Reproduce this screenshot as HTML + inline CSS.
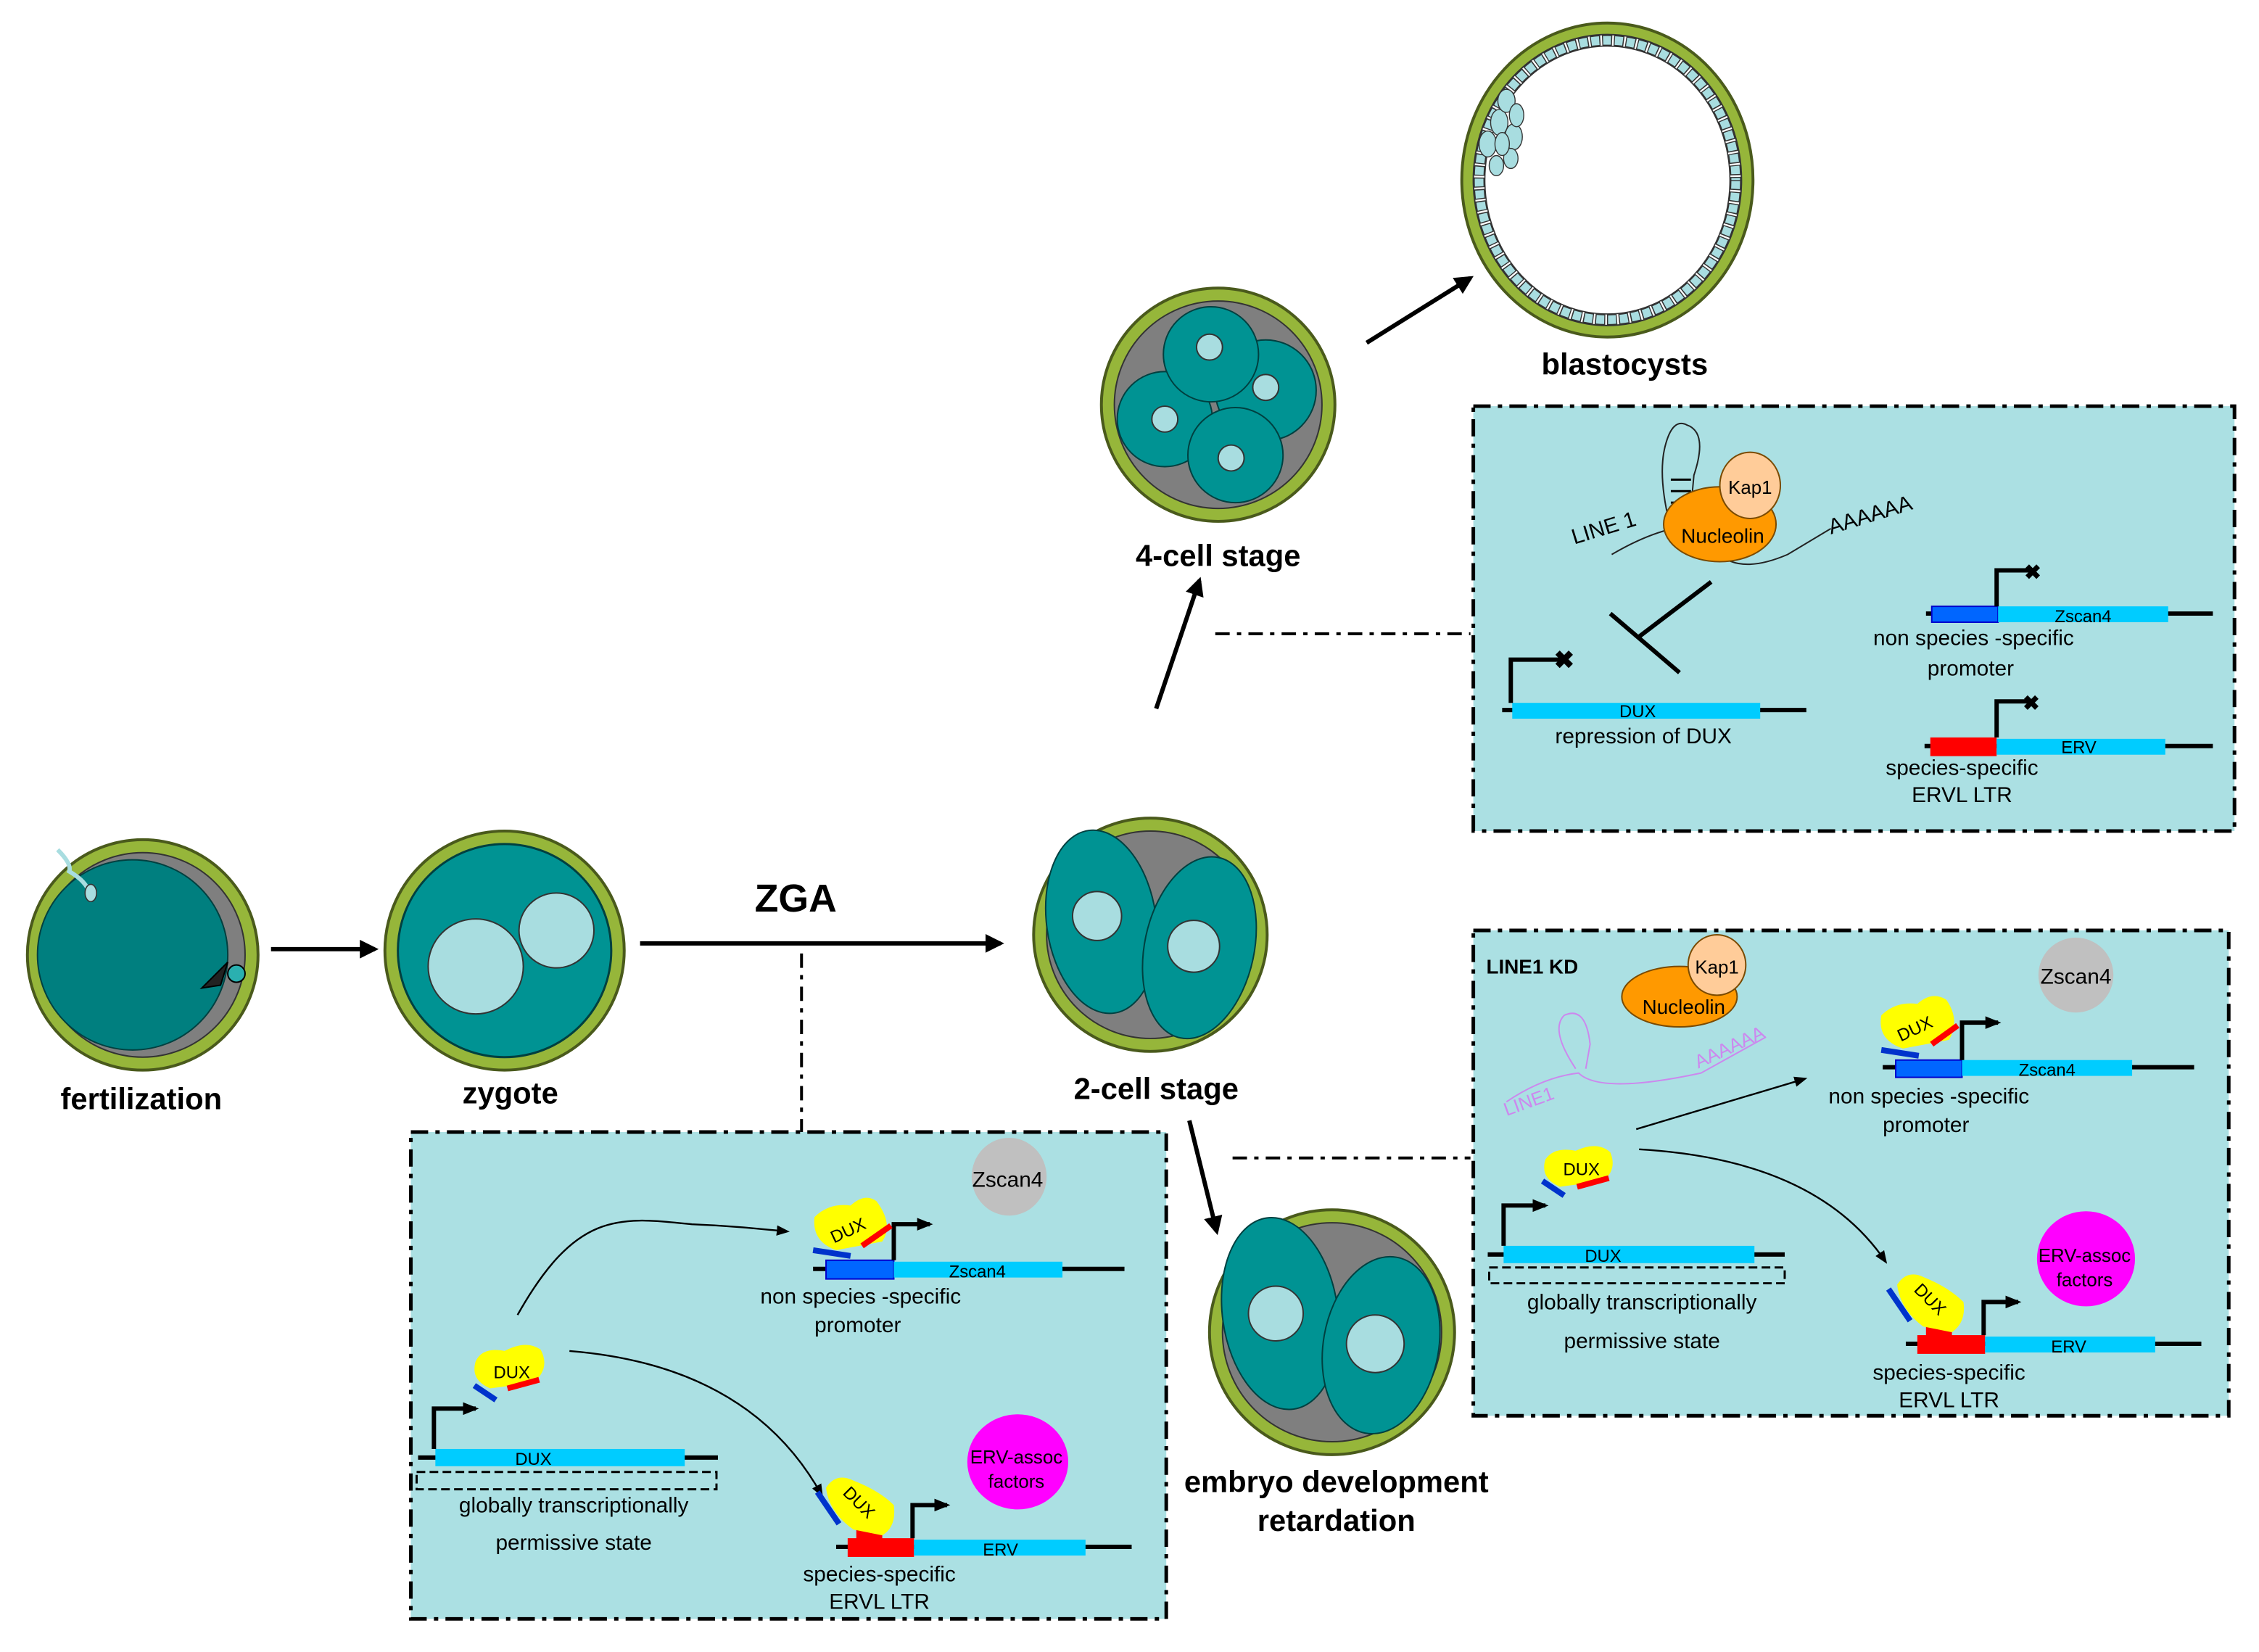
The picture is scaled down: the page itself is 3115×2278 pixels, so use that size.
<!DOCTYPE html>
<html><head><meta charset="utf-8"><style>
html,body{margin:0;padding:0;background:#fff}
svg{display:block}
text{font-family:"Liberation Sans",sans-serif}
</style></head><body>
<svg width="3115" height="2278" viewBox="0 0 1567 1147" preserveAspectRatio="none" xmlns="http://www.w3.org/2000/svg">
<defs>
<marker id="ah" viewBox="0 0 10 10" refX="8" refY="5" markerWidth="13" markerHeight="13" markerUnits="userSpaceOnUse" orient="auto"><path d="M0,0L10,5L0,10z" fill="#000"/></marker>
<marker id="ahs" viewBox="0 0 10 10" refX="8" refY="5" markerWidth="11" markerHeight="11" markerUnits="userSpaceOnUse" orient="auto"><path d="M0,1L10,5L0,9z" fill="#000"/></marker>
<marker id="aht" viewBox="0 0 10 10" refX="8" refY="5" markerWidth="9" markerHeight="9" markerUnits="userSpaceOnUse" orient="auto"><path d="M0,1L10,5L0,9z" fill="#000"/></marker>
</defs>
<rect width="1567" height="1147" fill="#fff"/>

<rect x="1022" y="282" width="528" height="295" fill="#abe0e3" stroke="#000" stroke-width="2.5" stroke-dasharray="12,5,3,5"/>
<rect x="285" y="786" width="524" height="338" fill="#abe0e3" stroke="#000" stroke-width="2.5" stroke-dasharray="12,5,3,5"/>
<rect x="1022" y="646" width="524" height="337" fill="#abe0e3" stroke="#000" stroke-width="2.5" stroke-dasharray="12,5,3,5"/>

<line x1="556" y1="662" x2="556" y2="786" stroke="#000" stroke-width="2" stroke-dasharray="10,5,3,5"/>
<line x1="843" y1="440" x2="1020" y2="440" stroke="#000" stroke-width="2" stroke-dasharray="10,5,3,5"/>
<line x1="855" y1="804" x2="1020" y2="804" stroke="#000" stroke-width="2" stroke-dasharray="10,5,3,5"/>

<line x1="188" y1="659" x2="260" y2="659" stroke="#000" stroke-width="3" marker-end="url(#ah)"/>
<line x1="444" y1="655" x2="694" y2="655" stroke="#000" stroke-width="3" marker-end="url(#ah)"/>
<text x="552" y="633" font-size="27" font-weight="bold" text-anchor="middle">ZGA</text>
<line x1="802" y1="492" x2="832" y2="403" stroke="#000" stroke-width="3" marker-end="url(#ah)"/>
<line x1="948" y1="238" x2="1020" y2="193" stroke="#000" stroke-width="3" marker-end="url(#ah)"/>
<line x1="825" y1="778" x2="844" y2="855" stroke="#000" stroke-width="3" marker-end="url(#ah)"/>

<circle cx="99" cy="663" r="80" fill="#96b63a" stroke="#4a5a1c" stroke-width="2"/>
<circle cx="99" cy="663" r="71" fill="#7f7f7f" stroke="#333" stroke-width="1"/>
<circle cx="92" cy="663" r="66" fill="#007f7f" stroke="#004040" stroke-width="1"/>
<path d="M40,590 Q50,600 48,605 Q60,612 62,620" fill="none" stroke="#a8dde0" stroke-width="3"/>
<ellipse cx="63" cy="620" rx="4" ry="6" fill="#a8dde0" stroke="#333" stroke-width="0.8"/>
<circle cx="164" cy="676" r="6" fill="#2ab0b0" stroke="#000"/>
<path d="M140,686 L158,668 L153,684 Z" fill="#222" stroke="#000"/>
<text x="98" y="770" font-size="21" font-weight="bold" text-anchor="middle">fertilization</text>

<circle cx="350" cy="660" r="83" fill="#96b63a" stroke="#4a5a1c" stroke-width="2"/>
<circle cx="350" cy="660" r="74" fill="#009393" stroke="#004040" stroke-width="1.5"/>
<circle cx="330" cy="671" r="33" fill="#a8dde0" stroke="#333" stroke-width="1"/>
<circle cx="386" cy="646" r="26" fill="#a8dde0" stroke="#333" stroke-width="1"/>
<text x="354" y="766" font-size="21" font-weight="bold" text-anchor="middle">zygote</text>

<circle cx="798" cy="649" r="81" fill="#96b63a" stroke="#4a5a1c" stroke-width="2"/>
<circle cx="798" cy="649" r="72" fill="#7f7f7f" stroke="#333"/>
<ellipse cx="764" cy="640" rx="38" ry="64" fill="#009393" stroke="#004040" transform="rotate(-8 764 640)"/>
<ellipse cx="832" cy="658" rx="38" ry="64" fill="#009393" stroke="#004040" transform="rotate(12 832 658)"/>
<circle cx="761" cy="636" r="17" fill="#a8dde0" stroke="#333"/>
<circle cx="828" cy="657" r="18" fill="#a8dde0" stroke="#333"/>
<text x="802" y="763" font-size="21" font-weight="bold" text-anchor="middle">2-cell stage</text>

<circle cx="845" cy="281" r="81" fill="#96b63a" stroke="#4a5a1c" stroke-width="2"/>
<circle cx="845" cy="281" r="72" fill="#7f7f7f" stroke="#333"/>
<circle cx="808" cy="291" r="33" fill="#009393" stroke="#004040"/>
<circle cx="878" cy="271" r="35" fill="#009393" stroke="#004040"/>
<circle cx="840" cy="246" r="33" fill="#009393" stroke="#004040"/>
<circle cx="857" cy="316" r="33" fill="#009393" stroke="#004040"/>
<circle cx="839" cy="241" r="9" fill="#a8dde0" stroke="#333"/>
<circle cx="808" cy="291" r="9" fill="#a8dde0" stroke="#333"/>
<circle cx="878" cy="269" r="9" fill="#a8dde0" stroke="#333"/>
<circle cx="854" cy="318" r="9" fill="#a8dde0" stroke="#333"/>
<text x="845" y="393" font-size="21" font-weight="bold" text-anchor="middle">4-cell stage</text>

<ellipse cx="1115" cy="125" rx="101" ry="109" fill="#96b63a" stroke="#4a5a1c" stroke-width="2"/>
<ellipse cx="1115" cy="125" rx="93" ry="101" fill="#fff" stroke="#333"/>
<ellipse cx="1115" cy="125" rx="89" ry="97" fill="none" stroke="#333" stroke-width="8" stroke-dasharray="7,1.2"/>
<ellipse cx="1115" cy="125" rx="89" ry="97" fill="none" stroke="#a8dde0" stroke-width="6" stroke-dasharray="5.5,2.7" stroke-dashoffset="-0.7"/>
<ellipse cx="1115" cy="125" rx="85" ry="93" fill="#fff" stroke="#333" stroke-width="0.8"/>
<g fill="#a8dde0" stroke="#333" stroke-width="0.7">
<ellipse cx="1040" cy="85" rx="6" ry="9"/><ellipse cx="1032" cy="100" rx="6" ry="9"/><ellipse cx="1045" cy="70" rx="6" ry="8"/><ellipse cx="1050" cy="95" rx="6" ry="9"/><ellipse cx="1038" cy="115" rx="5" ry="7"/><ellipse cx="1048" cy="110" rx="5" ry="7"/><ellipse cx="1042" cy="100" rx="5" ry="8"/><ellipse cx="1052" cy="80" rx="5" ry="8"/>
</g>
<text x="1127" y="260" font-size="21" font-weight="bold" text-anchor="middle">blastocysts</text>

<circle cx="924" cy="925" r="85" fill="#96b63a" stroke="#4a5a1c" stroke-width="2"/>
<circle cx="924" cy="925" r="76" fill="#7f7f7f" stroke="#333"/>
<ellipse cx="888" cy="912" rx="40" ry="67" fill="#009393" stroke="#004040" transform="rotate(-8 888 912)"/>
<ellipse cx="958" cy="934" rx="40" ry="62" fill="#009393" stroke="#004040" transform="rotate(10 958 934)"/>
<circle cx="885" cy="912" r="19" fill="#a8dde0" stroke="#333"/>
<circle cx="954" cy="933" r="20" fill="#a8dde0" stroke="#333"/>
<text x="927" y="1036" font-size="21" font-weight="bold" text-anchor="middle">embryo development</text>
<text x="927" y="1063" font-size="21" font-weight="bold" text-anchor="middle">retardation</text>

<path d="M1158,363 Q1150,330 1155,310 Q1160,290 1170,295 Q1185,300 1175,330 L1172,363" fill="none" stroke="#222" stroke-width="1"/>
<g stroke="#000" stroke-width="1.5"><line x1="1159" y1="333" x2="1173" y2="333"/><line x1="1159" y1="341" x2="1173" y2="341"/><line x1="1159" y1="349" x2="1173" y2="349"/></g>
<path d="M1118,385 Q1140,372 1160,367" fill="none" stroke="#222" stroke-width="1"/>
<path d="M1190,382 Q1205,400 1240,385 L1270,367" fill="none" stroke="#222" stroke-width="1"/>
<ellipse cx="1193" cy="364" rx="39" ry="26" fill="#ff9900" stroke="#7a4a00"/>
<text x="1195" y="377" font-size="14" text-anchor="middle">Nucleolin</text>
<ellipse cx="1214" cy="337" rx="21" ry="23" fill="#ffcc99" stroke="#7a4a00"/>
<text x="1214" y="343" font-size="13" text-anchor="middle">Kap1</text>
<text x="1092" y="378" font-size="15" transform="rotate(-17 1092 378)">LINE 1</text>
<text x="1270" y="371" font-size="15" transform="rotate(-17 1270 371)">AAAAAA</text>
<g stroke="#000" stroke-width="3"><line x1="1187" y1="404" x2="1137" y2="442"/><line x1="1117" y1="426" x2="1165" y2="467"/></g>
<line x1="1042" y1="493" x2="1253" y2="493" stroke="#000" stroke-width="3"/>
<rect x="1049" y="488" width="172" height="11" fill="#00ccff"/>
<text x="1136" y="498" font-size="12" text-anchor="middle">DUX</text>
<path d="M1048,488 V458 H1083" fill="none" stroke="#000" stroke-width="3"/>
<text x="1085" y="464" font-size="17" font-weight="bold" text-anchor="middle">✖</text>
<text x="1140" y="516" font-size="15" text-anchor="middle">repression of DUX</text>
<line x1="1336" y1="426" x2="1535" y2="426" stroke="#000" stroke-width="3"/>
<rect x="1340" y="421" width="46" height="11" fill="#0066ff" stroke="#0000cc"/>
<rect x="1386" y="421" width="118" height="11" fill="#00ccff"/>
<text x="1445" y="432" font-size="12" text-anchor="middle">Zscan4</text>
<path d="M1385,421 V396 H1408" fill="none" stroke="#000" stroke-width="3"/>
<text x="1410" y="402" font-size="14" font-weight="bold" text-anchor="middle">✖</text>
<text x="1369" y="448" font-size="15" text-anchor="middle">non species -specific</text>
<text x="1367" y="469" font-size="15" text-anchor="middle">promoter</text>
<line x1="1335" y1="518" x2="1535" y2="518" stroke="#000" stroke-width="3"/>
<rect x="1339" y="512" width="46" height="13" fill="#ff0000"/>
<rect x="1385" y="513" width="117" height="11" fill="#00ccff"/>
<text x="1442" y="523" font-size="12" text-anchor="middle">ERV</text>
<path d="M1385,512 V487 H1407" fill="none" stroke="#000" stroke-width="3"/>
<text x="1409" y="493" font-size="14" font-weight="bold" text-anchor="middle">✖</text>
<text x="1361" y="538" font-size="15" text-anchor="middle">species-specific</text>
<text x="1361" y="557" font-size="15" text-anchor="middle">ERVL LTR</text>

<ellipse cx="700" cy="817" rx="26" ry="27" fill="#c0c0c0"/>
<text x="699" y="824" font-size="15" text-anchor="middle">Zscan4</text>
<ellipse cx="706" cy="1015" rx="35" ry="33" fill="#ff00ff"/>
<text x="705" y="1016" font-size="13" text-anchor="middle">ERV-assoc</text>
<text x="705" y="1033" font-size="13" text-anchor="middle">factors</text>
<path d="M359,913 C400,840 430,845 480,850 C505,851 525,853 546,855" fill="none" stroke="#000" stroke-width="1.2" marker-end="url(#aht)"/>
<path d="M395,938 Q520,948 570,1038" fill="none" stroke="#000" stroke-width="1.2" marker-end="url(#aht)"/>
<line x1="290" y1="1012" x2="498" y2="1012" stroke="#000" stroke-width="3"/>
<rect x="302" y="1006" width="173" height="12" fill="#00ccff"/>
<text x="370" y="1017" font-size="12" text-anchor="middle">DUX</text>
<rect x="289" y="1022" width="208" height="12" fill="none" stroke="#000" stroke-width="1.5" stroke-dasharray="6,3"/>
<path d="M301,1006 V978 H330" fill="none" stroke="#000" stroke-width="3" marker-end="url(#ahs)"/>
<text x="398" y="1050" font-size="15" text-anchor="middle">globally transcriptionally</text>
<text x="398" y="1076" font-size="15" text-anchor="middle">permissive state</text>
<path d="M330,945 Q335,935 350,938 Q365,930 375,937 Q382,950 370,960 L340,964 Q326,958 330,945Z" fill="#ffff00"/>
<text x="355" y="957" font-size="12" text-anchor="middle">DUX</text>
<line x1="329" y1="962" x2="344" y2="972" stroke="#0033cc" stroke-width="4"/>
<line x1="352" y1="964" x2="374" y2="958" stroke="#ff0000" stroke-width="4"/>
<line x1="564" y1="881" x2="780" y2="881" stroke="#000" stroke-width="3"/>
<rect x="573" y="875" width="47" height="13" fill="#0066ff" stroke="#0000cc"/>
<rect x="620" y="876" width="117" height="11" fill="#00ccff"/>
<text x="678" y="887" font-size="12" text-anchor="middle">Zscan4</text>
<path d="M620,875 V850 H645" fill="none" stroke="#000" stroke-width="3" marker-end="url(#ahs)"/>
<path d="M565,845 Q575,835 590,837 Q600,828 608,834 Q620,850 612,862 L580,868 Q563,862 565,845Z" fill="#ffff00"/>
<text x="590" y="858" font-size="12" text-anchor="middle" transform="rotate(-25 590 858)">DUX</text>
<line x1="564" y1="868" x2="590" y2="872" stroke="#0033cc" stroke-width="4"/>
<line x1="598" y1="865" x2="618" y2="851" stroke="#ff0000" stroke-width="4"/>
<text x="597" y="905" font-size="15" text-anchor="middle">non species -specific</text>
<text x="595" y="925" font-size="15" text-anchor="middle">promoter</text>
<line x1="580" y1="1074" x2="785" y2="1074" stroke="#000" stroke-width="3"/>
<rect x="588" y="1068" width="46" height="13" fill="#ff0000"/>
<rect x="594" y="1062" width="18" height="8" fill="#ff0000"/>
<rect x="634" y="1069" width="119" height="11" fill="#00ccff"/>
<text x="694" y="1080" font-size="12" text-anchor="middle">ERV</text>
<path d="M633,1068 V1045 H657" fill="none" stroke="#000" stroke-width="3" marker-end="url(#ahs)"/>
<path d="M573,1033 Q580,1022 592,1028 Q610,1035 620,1045 Q622,1060 612,1066 L592,1062 Q575,1050 573,1033Z" fill="#ffff00"/>
<text x="593" y="1046" font-size="12" text-anchor="middle" transform="rotate(45 593 1046)">DUX</text>
<line x1="567" y1="1036" x2="582" y2="1058" stroke="#0033cc" stroke-width="4"/>
<text x="610" y="1098" font-size="15" text-anchor="middle">species-specific</text>
<text x="610" y="1117" font-size="15" text-anchor="middle">ERVL LTR</text>

<text x="1031" y="676" font-size="14" font-weight="bold">LINE1 KD</text>
<ellipse cx="1165" cy="692" rx="40" ry="21" fill="#ff9900" stroke="#7a4a00"/>
<text x="1168" y="704" font-size="14" text-anchor="middle">Nucleolin</text>
<ellipse cx="1191" cy="670" rx="20" ry="21" fill="#ffcc99" stroke="#7a4a00"/>
<text x="1191" y="676" font-size="13" text-anchor="middle">Kap1</text>
<path d="M1093,742 Q1075,715 1085,705 Q1100,698 1103,725 L1100,742" fill="none" stroke="#cc88ee" stroke-width="1"/>
<path d="M1045,765 Q1070,748 1095,745 Q1110,760 1180,745 L1225,720" fill="none" stroke="#cc88ee" stroke-width="1"/>
<text x="1045" y="775" font-size="13" fill="#cc88ee" transform="rotate(-20 1045 775)">LINE1</text>
<text x="1178" y="742" font-size="13" fill="#cc88ee" transform="rotate(-25 1178 742)">AAAAAA</text>
<ellipse cx="1440" cy="677" rx="26" ry="26" fill="#c0c0c0"/>
<text x="1440" y="683" font-size="15" text-anchor="middle">Zscan4</text>
<ellipse cx="1447" cy="874" rx="34" ry="33" fill="#ff00ff"/>
<text x="1446" y="876" font-size="13" text-anchor="middle">ERV-assoc</text>
<text x="1446" y="893" font-size="13" text-anchor="middle">factors</text>
<line x1="1135" y1="784" x2="1252" y2="749" stroke="#000" stroke-width="1.2" marker-end="url(#aht)"/>
<path d="M1137,798 Q1260,805 1308,876" fill="none" stroke="#000" stroke-width="1.2" marker-end="url(#aht)"/>
<line x1="1032" y1="871" x2="1238" y2="871" stroke="#000" stroke-width="3"/>
<rect x="1043" y="865" width="174" height="12" fill="#00ccff"/>
<text x="1112" y="876" font-size="12" text-anchor="middle">DUX</text>
<rect x="1033" y="880" width="205" height="11" fill="none" stroke="#000" stroke-width="1.5" stroke-dasharray="6,3"/>
<path d="M1043,865 V837 H1072" fill="none" stroke="#000" stroke-width="3" marker-end="url(#ahs)"/>
<text x="1139" y="909" font-size="15" text-anchor="middle">globally transcriptionally</text>
<text x="1139" y="936" font-size="15" text-anchor="middle">permissive state</text>
<path d="M1072,805 Q1078,796 1093,799 Q1108,792 1117,800 Q1122,812 1112,820 L1082,824 Q1068,818 1072,805Z" fill="#ffff00"/>
<text x="1097" y="816" font-size="12" text-anchor="middle">DUX</text>
<line x1="1070" y1="820" x2="1085" y2="830" stroke="#0033cc" stroke-width="4"/>
<line x1="1094" y1="824" x2="1116" y2="818" stroke="#ff0000" stroke-width="4"/>
<line x1="1306" y1="741" x2="1522" y2="741" stroke="#000" stroke-width="3"/>
<rect x="1315" y="736" width="46" height="12" fill="#0066ff" stroke="#0000cc"/>
<rect x="1361" y="736" width="118" height="11" fill="#00ccff"/>
<text x="1420" y="747" font-size="12" text-anchor="middle">Zscan4</text>
<path d="M1361,736 V710 H1386" fill="none" stroke="#000" stroke-width="3" marker-end="url(#ahs)"/>
<path d="M1305,705 Q1315,695 1330,697 Q1340,688 1350,694 Q1360,708 1352,722 L1320,728 Q1302,722 1305,705Z" fill="#ffff00"/>
<text x="1330" y="718" font-size="12" text-anchor="middle" transform="rotate(-25 1330 718)">DUX</text>
<line x1="1305" y1="729" x2="1331" y2="733" stroke="#0033cc" stroke-width="4"/>
<line x1="1340" y1="725" x2="1358" y2="712" stroke="#ff0000" stroke-width="4"/>
<text x="1338" y="766" font-size="15" text-anchor="middle">non species -specific</text>
<text x="1336" y="786" font-size="15" text-anchor="middle">promoter</text>
<line x1="1322" y1="933" x2="1527" y2="933" stroke="#000" stroke-width="3"/>
<rect x="1330" y="927" width="47" height="13" fill="#ff0000"/>
<rect x="1336" y="921" width="18" height="8" fill="#ff0000"/>
<rect x="1377" y="928" width="118" height="11" fill="#00ccff"/>
<text x="1435" y="939" font-size="12" text-anchor="middle">ERV</text>
<path d="M1376,927 V904 H1400" fill="none" stroke="#000" stroke-width="3" marker-end="url(#ahs)"/>
<path d="M1316,892 Q1323,881 1335,887 Q1352,894 1362,904 Q1364,918 1354,925 L1334,921 Q1318,909 1316,892Z" fill="#ffff00"/>
<text x="1336" y="905" font-size="12" text-anchor="middle" transform="rotate(45 1336 905)">DUX</text>
<line x1="1310" y1="895" x2="1325" y2="917" stroke="#0033cc" stroke-width="4"/>
<text x="1352" y="958" font-size="15" text-anchor="middle">species-specific</text>
<text x="1352" y="977" font-size="15" text-anchor="middle">ERVL LTR</text>
</svg>
</body></html>
